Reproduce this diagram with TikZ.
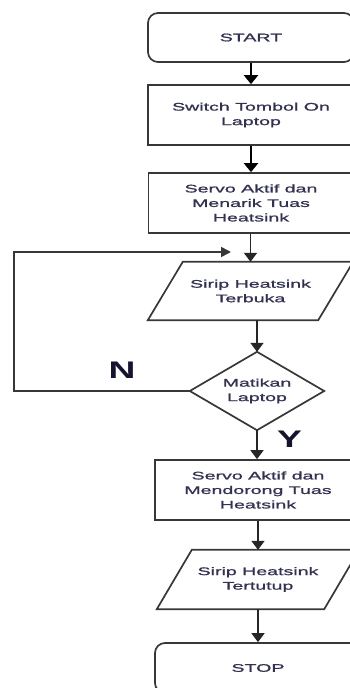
\documentclass[tikz,border=0pt]{standalone}
\usepackage{fontspec}
\setmainfont{Liberation Sans}
\newfontfamily\bodyfont[FakeStretch=1.78,FakeBold=1.2]{Liberation Sans}
\newfontfamily\labfont[FakeStretch=1.55]{Liberation Sans}
\usetikzlibrary{arrows.meta,calc}
\definecolor{txt}{RGB}{50,50,80}
\definecolor{edge}{RGB}{55,55,55}
\definecolor{lab}{RGB}{20,20,45}
\tikzset{
  box/.style={draw=edge,line width=1.7pt,minimum width=206pt,minimum height=60pt,inner sep=0pt,
    text=txt,font=\bodyfont\fontsize{11}{14.5}\selectfont,align=center},
  roundbox/.style={box,rounded corners=10pt},
  plain/.style={inner sep=0pt,text=txt,font=\bodyfont\fontsize{11}{14.5}\selectfont,align=center},
  shapeline/.style={draw=edge,line width=1.7pt},
  thickarrow/.style={draw=black,line width=2.6pt,-{Triangle[width=14pt,length=9pt]}},
  thinarrow/.style={draw=black!85,line width=1.8pt,-{Triangle[width=13pt,length=9pt]}},
  looparrow/.style={draw=edge,line width=1.7pt,-{Triangle[width=10pt,length=10pt]}},
  labstyle/.style={text=lab,font=\labfont\bfseries\fontsize{24}{24}\selectfont,inner sep=0pt}
}
\begin{document}
\begin{tikzpicture}[x=1pt,y=-1pt]
\useasboundingbox (0,0) rectangle (350,688);
\clip (0,0) rectangle (350,688);
% nodes
\node[roundbox,minimum height=49pt] (start) at (251,37.5) {START};
\node[box] (switch) at (251,115) {Switch Tombol On\\Laptop};
\node[box,minimum width=205pt] (servoA) at (251,203) {Servo Aktif dan\\Menarik Tuas\\Heatsink};
\node[plain,minimum width=205pt,minimum height=58pt] (buka) at (250.5,291) {Sirip Heatsink\\Terbuka};
\draw[shapeline] (buka.south west) -- ($(buka.north west)+(35,0)$) -- (buka.north east) -- ($(buka.south east)+(-35,0)$) -- cycle;
\node[plain,minimum width=134pt,minimum height=78pt] (dia) at (257,391) {Matikan\\Laptop};
\draw[shapeline] (dia.north) -- (dia.east) -- (dia.south) -- (dia.west) -- cycle;
\node[box] (servoB) at (258,490) {Servo Aktif dan\\Mendorong Tuas\\Heatsink};
\node[plain,minimum width=202pt,minimum height=59pt] (tutup) at (258,579.5) {Sirip Heatsink\\Tertutup};
\draw[shapeline] (tutup.south west) -- ($(tutup.north west)+(35,0)$) -- (tutup.north east) -- ($(tutup.south east)+(-35,0)$) -- cycle;
\node[roundbox,minimum height=50pt] (stop) at (258,668) {STOP};
% labels
\node[labstyle] (nlab) at (122,370.5) {N};
\node[labstyle] (ylab) at (289.5,439.5) {Y};
% connectors
\draw[thickarrow] (start.south) -- (switch.north);
\draw[thickarrow] (switch.south) -- (servoA.north);
\draw[thinarrow] (servoA.south -| buka.north) -- (buka.north);
\draw[thinarrow] (buka.south -| dia.north) -- (dia.north);
\draw[thinarrow] (dia.south) -- (dia.south |- servoB.north);
\draw[thinarrow] (servoB.south) -- (tutup.north);
\draw[thinarrow] (tutup.south) -- (stop.north);
\coordinate (loopL) at (14,252);
\coordinate (loopEnd) at (231,252);
\draw[looparrow] (dia.west) -| (loopL) -- (loopEnd);
\end{tikzpicture}
\end{document}
